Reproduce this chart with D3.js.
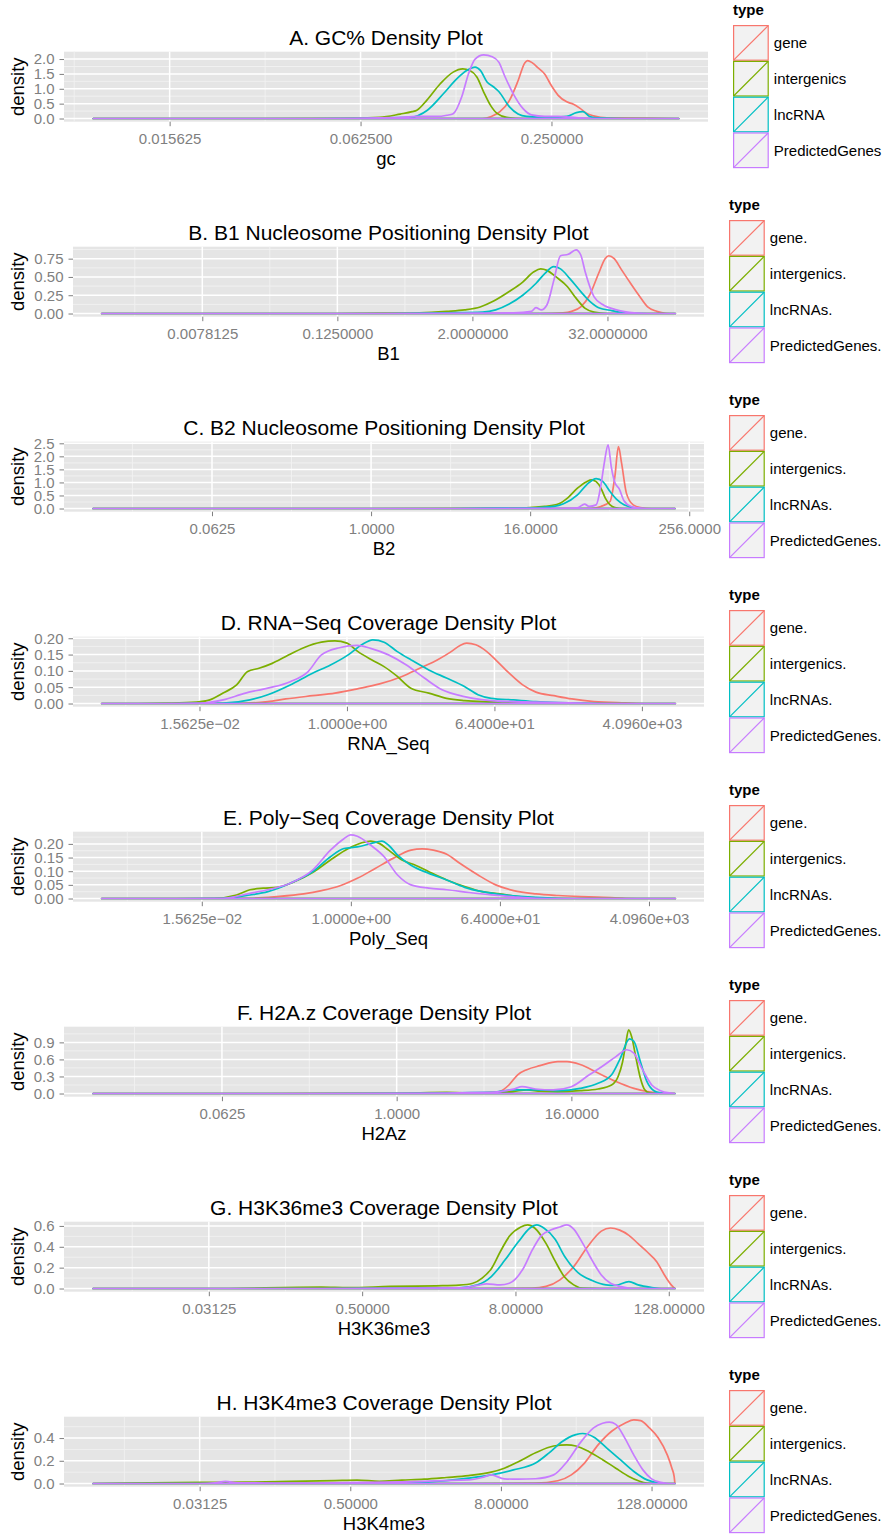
<!DOCTYPE html>
<html>
<head>
<meta charset="utf-8">
<title>Density plots</title>
<script src="https://cdn.jsdelivr.net/npm/d3@7"></script>
<style>
  body { margin: 0; background: #fff; }
  svg { display: block; font-family: "Liberation Sans", Arial, Helvetica, sans-serif; }
</style>
</head>
<body>
<div id="chart"></div>
<script>
// curve points are [log2(x), density]

// A. GC%
var gcGene = [[-6.80,0],[-3.5,0],[-2.725,0],[-2.63,0.07],[-2.54,0.23],[-2.44,0.61],[-2.35,1.27],[-2.28,1.87],[-2.25,1.95],[-2.20,1.87],[-2.14,1.70],[-2.07,1.49],[-2.0,1.10],[-1.93,0.78],[-1.84,0.56],[-1.77,0.48],[-1.70,0.34],[-1.63,0.17],[-1.56,0.09],[-1.42,0.02],[-1.0,0.01],[-0.667,0]];
var gcInter = [[-6.80,0],[-5.0,0],[-4.2,0.005],[-3.80,0.04],[-3.585,0.15],[-3.46,0.23],[-3.41,0.28],[-3.305,0.62],[-3.165,1.17],[-3.03,1.56],[-2.93,1.67],[-2.86,1.62],[-2.78,1.39],[-2.71,0.89],[-2.64,0.45],[-2.57,0.17],[-2.47,0.04],[-2.3,0],[-0.667,0]];
var gcLnc = [[-6.80,0],[-4.5,0],[-3.48,0.04],[-3.30,0.28],[-3.13,0.84],[-2.99,1.34],[-2.885,1.62],[-2.80,1.73],[-2.745,1.62],[-2.675,1.23],[-2.605,1.06],[-2.55,0.9],[-2.44,0.39],[-2.35,0.15],[-2.26,0.07],[-2.02,0.04],[-1.84,0.07],[-1.74,0.2],[-1.67,0.23],[-1.60,0.07],[-1.51,0.02],[-1.23,0],[-0.667,0]];
var gcPred = [[-6.80,0],[-4.5,0],[-3.66,0.03],[-3.4,0.07],[-3.2,0.07],[-3.095,0.11],[-3.03,0.16],[-2.94,0.73],[-2.87,1.5],[-2.80,2.0],[-2.71,2.14],[-2.62,2.08],[-2.55,1.89],[-2.49,1.43],[-2.40,0.83],[-2.30,0.34],[-2.21,0.12],[-2.07,0.07],[-1.93,0.07],[-1.74,0.03],[-1.56,0],[-0.667,0]];
var gcTicks = [0.015625, 0.0625, 0.25];
var gcTickLabels = ["0.015625", "0.062500", "0.250000"];
var gcYTicks = [0, 0.5, 1, 1.5, 2];

// B. B1
var b1Gene = [[-9.98,0],[3.0,0],[3.68,0.01],[3.94,0.03],[4.21,0.09],[4.47,0.25],[4.74,0.55],[4.93,0.75],[5.04,0.79],[5.20,0.75],[5.40,0.61],[5.66,0.43],[5.93,0.25],[6.19,0.09],[6.46,0.03],[6.72,0.003],[7.01,0]];
var b1Inter = [[-9.98,0],[-3,0],[-1.5,0.005],[-0.556,0.01],[0.24,0.03],[0.767,0.05],[1.23,0.09],[1.63,0.17],[2.09,0.30],[2.49,0.43],[2.82,0.57],[3.02,0.61],[3.21,0.59],[3.48,0.50],[3.81,0.37],[4.07,0.21],[4.34,0.07],[4.60,0.02],[5.0,0],[7.01,0]];
var b1Lnc = [[-9.98,0],[-2,0],[0.24,0.01],[1.30,0.02],[1.69,0.05],[2.09,0.13],[2.49,0.25],[2.88,0.41],[3.15,0.55],[3.41,0.64],[3.61,0.61],[3.88,0.48],[4.21,0.30],[4.47,0.17],[4.74,0.08],[5.13,0.04],[5.53,0.01],[6.19,0],[7.01,0]];
var b1Pred = [[-9.98,0],[-3,0],[1.0,0.005],[2.22,0.01],[2.75,0.03],[2.88,0.08],[3.04,0.05],[3.21,0.12],[3.41,0.45],[3.61,0.79],[3.84,0.81],[4.07,0.87],[4.21,0.80],[4.34,0.57],[4.60,0.23],[4.87,0.12],[5.27,0.05],[5.79,0.01],[6.3,0],[7.01,0]];
var b1Ticks = [0.0078125, 0.125, 2, 32];
var b1TickLabels = ["0.0078125", "0.1250000", "2.0000000", "32.0000000"];
var b1YTicks = [0, 0.25, 0.5, 0.75];

// C. B2
var b2Gene = [[-6.99,0],[5.0,0],[5.54,0.01],[5.78,0.08],[6.01,0.27],[6.13,1.22],[6.22,2.37],[6.30,1.73],[6.42,0.59],[6.59,0.14],[6.77,0.04],[7.06,0],[7.64,0]];
var b2Inter = [[-6.99,0],[0,0],[2.5,0.01],[3.90,0.03],[4.37,0.08],[4.72,0.18],[4.96,0.43],[5.19,0.78],[5.42,1.03],[5.54,1.10],[5.66,1.03],[5.78,0.78],[5.89,0.40],[6.01,0.14],[6.13,0.04],[6.36,0],[7.64,0]];
var b2Lnc = [[-6.99,0],[2,0],[4.14,0.03],[4.60,0.08],[4.84,0.18],[5.19,0.52],[5.42,0.91],[5.66,1.15],[5.83,1.03],[6.01,0.65],[6.19,0.33],[6.36,0.14],[6.59,0.04],[6.83,0],[7.64,0]];
var b2Pred = [[-6.99,0],[2,0],[4.8,0.01],[5.19,0.03],[5.37,0.17],[5.48,0.08],[5.66,0.14],[5.78,0.9],[5.87,1.8],[5.96,2.44],[6.04,1.6],[6.13,1.0],[6.24,0.75],[6.36,0.3],[6.54,0.08],[6.77,0.02],[7.1,0],[7.64,0]];
var b2Ticks = [0.0625, 1, 16, 256];
var b2TickLabels = ["0.0625", "1.0000", "16.0000", "256.0000"];
var b2YTicks = [0, 0.5, 1, 1.5, 2, 2.5];

// D. RNA-Seq
var rnaGene = [[-9.98,0],[-6,0],[-4.13,0.001],[-3.22,0.006],[-2.49,0.014],[-1.4,0.024],[-0.49,0.032],[0.42,0.045],[1.33,0.060],[2.24,0.083],[2.96,0.108],[3.69,0.134],[4.24,0.159],[4.6,0.178],[4.87,0.185],[5.24,0.180],[5.69,0.159],[6.05,0.134],[6.6,0.093],[7.15,0.057],[7.69,0.035],[8.42,0.024],[9.15,0.014],[10.05,0.006],[11.33,0.002],[12.24,0],[13.36,0]];
var rnaInter = [[-9.98,0],[-8.5,0],[-7.22,0.001],[-6.13,0.004],[-5.58,0.011],[-5.04,0.032],[-4.49,0.057],[-4.04,0.098],[-3.58,0.108],[-3.04,0.123],[-2.49,0.144],[-1.76,0.171],[-1.04,0.188],[-0.49,0.192],[0,0.185],[0.45,0.159],[1.0,0.134],[1.51,0.113],[2.05,0.083],[2.6,0.047],[3.33,0.032],[4.05,0.016],[4.78,0.009],[5.87,0.005],[7.69,0.001],[9,0],[13.36,0]];
var rnaLnc = [[-9.98,0],[-7,0],[-5.04,0.001],[-3.95,0.011],[-3.22,0.027],[-2.31,0.057],[-1.4,0.093],[-0.67,0.118],[0.05,0.149],[0.6,0.180],[1.05,0.195],[1.51,0.188],[2.05,0.159],[2.6,0.134],[3.33,0.103],[4.05,0.078],[4.78,0.052],[5.33,0.027],[5.87,0.016],[6.78,0.011],[7.69,0.006],[8.6,0.003],[9.51,0.001],[10.5,0],[13.36,0]];
var rnaPred = [[-9.98,0],[-7.5,0],[-5.95,0.001],[-5.04,0.011],[-4.13,0.032],[-3.22,0.047],[-2.31,0.067],[-1.58,0.098],[-1.04,0.149],[-0.31,0.171],[0.42,0.178],[0.96,0.169],[1.69,0.149],[2.42,0.118],[3.15,0.078],[3.87,0.042],[4.78,0.021],[5.87,0.009],[6.78,0.006],[7.69,0.004],[9.51,0.001],[10.5,0],[13.36,0]];
var rnaTicks = [0.015625, 1, 64, 4096];
var rnaTickLabels = ["1.5625e\u221202", "1.0000e+00", "6.4000e+01", "4.0960e+03"];
var rnaYTicks = [0, 0.05, 0.1, 0.15, 0.2];

// E. Poly-Seq
var polyGene = [[-10.03,0],[-6,0],[-4.06,0.001],[-2.98,0.007],[-1.90,0.017],[-1.18,0.029],[-0.46,0.046],[0.26,0.074],[0.98,0.11],[1.70,0.147],[2.42,0.177],[2.87,0.182],[3.32,0.177],[3.86,0.162],[4.40,0.128],[5.12,0.086],[5.83,0.05],[6.55,0.029],[7.45,0.017],[8.35,0.011],[9.25,0.007],[10.15,0.004],[11.05,0.001],[12,0],[13.06,0]];
var polyInter = [[-10.03,0],[-7,0],[-5.50,0.001],[-4.60,0.013],[-4.06,0.032],[-3.52,0.038],[-2.98,0.041],[-2.26,0.062],[-1.54,0.095],[-0.82,0.141],[-0.10,0.183],[0.44,0.204],[0.80,0.21],[1.16,0.201],[1.52,0.177],[2.06,0.141],[2.60,0.122],[3.14,0.098],[3.86,0.068],[4.58,0.044],[5.29,0.025],[6.01,0.017],[6.73,0.007],[7.45,0.002],[8.5,0],[13.06,0]];
var polyLnc = [[-10.03,0],[-7,0],[-5.14,0.001],[-4.06,0.013],[-3.34,0.025],[-2.44,0.056],[-1.54,0.098],[-0.82,0.153],[-0.28,0.183],[0.26,0.189],[0.80,0.201],[1.25,0.21],[1.52,0.195],[1.88,0.159],[2.42,0.122],[3.14,0.092],[3.86,0.068],[4.58,0.041],[5.29,0.025],[6.19,0.013],[7.45,0.004],[8.35,0.001],[9.5,0],[13.06,0]];
var polyPred = [[-10.03,0],[-7,0],[-5.14,0.001],[-4.06,0.019],[-3.34,0.032],[-2.44,0.056],[-1.54,0.104],[-0.82,0.177],[-0.28,0.219],[-0.01,0.233],[0.26,0.228],[0.80,0.195],[1.34,0.153],[1.88,0.086],[2.42,0.05],[3.14,0.038],[3.86,0.032],[4.76,0.022],[5.65,0.013],[6.55,0.006],[7.45,0.001],[8.5,0],[13.06,0]];
var polyTicks = [0.015625, 1, 64, 4096];
var polyTickLabels = ["1.5625e\u221202", "1.0000e+00", "6.4000e+01", "4.0960e+03"];
var polyYTicks = [0, 0.05, 0.1, 0.15, 0.2];

// F. H2A.z
var h2Gene = [[-6.95,0],[-3,0],[0.12,0.005],[2.16,0.012],[2.36,0.035],[2.57,0.15],[2.77,0.33],[2.98,0.42],[3.28,0.49],[3.69,0.56],[3.90,0.56],[4.20,0.51],[4.61,0.36],[5.02,0.21],[5.43,0.09],[5.73,0.035],[6.04,0.01],[6.37,0]];
var h2Inter = [[-6.95,0],[-3,0],[0,0.005],[1.14,0.02],[1.6,0.01],[2.3,0.02],[2.67,0.035],[2.98,0.065],[3.3,0.04],[3.69,0.035],[4.20,0.05],[4.61,0.08],[4.92,0.15],[5.07,0.3],[5.17,0.55],[5.24,0.85],[5.31,1.12],[5.38,1.0],[5.48,0.62],[5.58,0.27],[5.68,0.065],[5.79,0.01],[6.0,0],[6.37,0]];
var h2Lnc = [[-6.95,0],[-3,0],[0,0.003],[2.16,0.02],[2.67,0.065],[3.18,0.065],[3.69,0.05],[4.20,0.09],[4.61,0.18],[4.92,0.33],[5.12,0.62],[5.33,0.96],[5.43,0.92],[5.58,0.56],[5.73,0.21],[5.89,0.05],[6.04,0.01],[6.2,0],[6.37,0]];
var h2Pred = [[-6.95,0],[-3,0],[0,0.003],[2.16,0.02],[2.67,0.076],[2.87,0.12],[3.18,0.08],[3.59,0.065],[4.0,0.12],[4.41,0.33],[4.71,0.48],[5.02,0.65],[5.27,0.77],[5.43,0.71],[5.63,0.42],[5.84,0.15],[6.04,0.05],[6.24,0.01],[6.37,0]];
var h2Ticks = [0.0625, 1, 16];
var h2TickLabels = ["0.0625", "1.0000", "16.0000"];
var h2YTicks = [0, 0.3, 0.6, 0.9];

// G. H3K36me3
var k36Gene = [[-8.02,0],[2,0],[3.44,0.003],[3.80,0.02],[4.16,0.083],[4.52,0.21],[4.88,0.40],[5.24,0.55],[5.48,0.58],[5.72,0.56],[5.96,0.51],[6.20,0.43],[6.44,0.35],[6.68,0.26],[6.92,0.11],[7.10,0.02],[7.16,0]];
var k36Inter = [[-8.02,0],[-5,0],[-2.07,0.013],[-1.35,0.008],[-0.27,0.02],[0.93,0.026],[1.53,0.032],[1.89,0.05],[2.13,0.1],[2.37,0.19],[2.60,0.35],[2.84,0.50],[3.14,0.59],[3.32,0.61],[3.50,0.58],[3.80,0.43],[4.04,0.26],[4.28,0.11],[4.52,0.035],[4.76,0.003],[5.2,0],[7.16,0]];
var k36Lnc = [[-8.02,0],[-2,0],[1.53,0.006],[2.01,0.035],[2.37,0.115],[2.72,0.27],[3.08,0.45],[3.38,0.58],[3.56,0.61],[3.74,0.58],[4.04,0.47],[4.28,0.31],[4.64,0.15],[5.0,0.077],[5.36,0.035],[5.60,0.03],[5.96,0.067],[6.20,0.035],[6.56,0.01],[6.80,0],[7.16,0]];
var k36Pred = [[-8.02,0],[-2,0],[1.53,0.006],[2.01,0.03],[2.25,0.045],[2.60,0.035],[2.84,0.05],[3.20,0.19],[3.44,0.37],[3.68,0.51],[3.92,0.56],[4.16,0.59],[4.34,0.61],[4.52,0.57],[4.76,0.43],[5.0,0.27],[5.24,0.13],[5.48,0.05],[5.72,0.02],[6.08,0],[7.16,0]];
var k36Ticks = [0.03125, 0.5, 8, 128];
var k36TickLabels = ["0.03125", "0.50000", "8.00000", "128.00000"];
var k36YTicks = [0, 0.2, 0.4, 0.6];

// H. H3K4me3
var k4Gene = [[-7.83,0],[2,0],[3.92,0.003],[4.51,0.024],[4.87,0.076],[5.22,0.18],[5.58,0.34],[5.94,0.46],[6.29,0.53],[6.53,0.56],[6.71,0.553],[6.94,0.49],[7.18,0.40],[7.42,0.25],[7.54,0.135],[7.60,0.06],[7.62,0]];
var k4Inter = [[-7.83,0],[-7,0.003],[-4.96,0.01],[-3.78,0.012],[-2.59,0.018],[-1.41,0.026],[-0.82,0.03],[-0.23,0.02],[0.37,0.03],[0.96,0.038],[1.55,0.053],[2.14,0.07],[2.74,0.1],[3.09,0.135],[3.45,0.19],[3.92,0.27],[4.40,0.33],[4.75,0.34],[4.99,0.33],[5.34,0.28],[5.70,0.21],[6.05,0.135],[6.41,0.06],[6.65,0.024],[6.88,0.003],[7.1,0],[7.62,0]];
var k4Lnc = [[-7.83,0],[-2,0],[0.37,0.006],[1.55,0.026],[2.14,0.047],[2.74,0.076],[3.33,0.12],[3.92,0.18],[4.28,0.27],[4.63,0.37],[4.99,0.43],[5.17,0.44],[5.46,0.41],[5.82,0.31],[6.17,0.21],[6.53,0.106],[6.88,0.032],[7.24,0.003],[7.4,0],[7.62,0]];
var k4Pred = [[-7.83,0],[-5,0],[-4.6,0.006],[-4.31,0.018],[-4.0,0.006],[-2,0.003],[2.14,0.032],[2.50,0.053],[2.74,0.076],[3.09,0.041],[3.45,0.038],[3.92,0.042],[4.40,0.076],[4.75,0.19],[5.11,0.36],[5.46,0.49],[5.70,0.53],[5.88,0.54],[6.05,0.52],[6.29,0.40],[6.53,0.25],[6.77,0.12],[7.0,0.041],[7.24,0.01],[7.48,0],[7.62,0]];
var k4Ticks = [0.03125, 0.5, 8, 128];
var k4TickLabels = ["0.03125", "0.50000", "8.00000", "128.00000"];
var k4YTicks = [0, 0.2, 0.4];

var typesA = ["gene", "intergenics", "lncRNA", "PredictedGenes"];
var typesDot = ["gene.", "intergenics.", "lncRNAs.", "PredictedGenes."];
var colors = ["#F8766D", "#7CAE00", "#00BFC4", "#C77CFF"];

var panels = [
  {title: "A. GC% Density Plot", xlab: "gc", curves: [gcGene, gcInter, gcLnc, gcPred], ticks: gcTicks, labels: gcTickLabels, yTicks: gcYTicks, yFmt: ".1f", legend: typesA},
  {title: "B. B1 Nucleosome Positioning Density Plot", xlab: "B1", curves: [b1Gene, b1Inter, b1Lnc, b1Pred], ticks: b1Ticks, labels: b1TickLabels, yTicks: b1YTicks, yFmt: ".2f", legend: typesDot},
  {title: "C. B2 Nucleosome Positioning Density Plot", xlab: "B2", curves: [b2Gene, b2Inter, b2Lnc, b2Pred], ticks: b2Ticks, labels: b2TickLabels, yTicks: b2YTicks, yFmt: ".1f", legend: typesDot},
  {title: "D. RNA\u2212Seq Coverage Density Plot", xlab: "RNA_Seq", curves: [rnaGene, rnaInter, rnaLnc, rnaPred], ticks: rnaTicks, labels: rnaTickLabels, yTicks: rnaYTicks, yFmt: ".2f", legend: typesDot},
  {title: "E. Poly\u2212Seq Coverage Density Plot", xlab: "Poly_Seq", curves: [polyGene, polyInter, polyLnc, polyPred], ticks: polyTicks, labels: polyTickLabels, yTicks: polyYTicks, yFmt: ".2f", legend: typesDot},
  {title: "F. H2A.z Coverage Density Plot", xlab: "H2Az", curves: [h2Gene, h2Inter, h2Lnc, h2Pred], ticks: h2Ticks, labels: h2TickLabels, yTicks: h2YTicks, yFmt: ".1f", legend: typesDot},
  {title: "G. H3K36me3 Coverage Density Plot", xlab: "H3K36me3", curves: [k36Gene, k36Inter, k36Lnc, k36Pred], ticks: k36Ticks, labels: k36TickLabels, yTicks: k36YTicks, yFmt: ".1f", legend: typesDot},
  {title: "H. H3K4me3 Coverage Density Plot", xlab: "H3K4me3", curves: [k4Gene, k4Inter, k4Lnc, k4Pred], ticks: k4Ticks, labels: k4TickLabels, yTicks: k4YTicks, yFmt: ".1f", legend: typesDot}
];

// layout
var W = 886, H = 1534, BLOCK = 195;
var panelLeft = [64, 73, 64, 73, 73, 64, 64, 64];
var panelRight = [708, 704, 704, 704, 704, 704, 704, 704];
var keySize = 35.8;
var grey50 = "#7F7F7F";

var svg = d3.select("#chart").append("svg")
    .attr("width", W)
    .attr("height", H);

panels.forEach(function(p, i) {
  var o = i * BLOCK,
      top = o + 51.7,
      bottom = o + 121.7,
      left = panelLeft[i],
      right = panelRight[i];
  var g = svg.append("g");

  var all = d3.merge(p.curves);
  var ext = d3.extent(all, function(d) { return d[0]; });
  var pad = (ext[1] - ext[0]) * 0.05;
  var lo = ext[0] - pad, hi = ext[1] + pad;
  var x = d3.scaleLog().base(2)
      .domain([Math.pow(2, lo), Math.pow(2, hi)])
      .range([left, right]);
  var ymax = d3.max(all, function(d) { return d[1]; });
  var y = d3.scaleLinear()
      .domain([-0.05 * ymax, 1.05 * ymax])
      .range([bottom, top]);

  g.append("rect")
      .attr("x", left).attr("y", top)
      .attr("width", right - left).attr("height", bottom - top)
      .attr("fill", "#E5E5E5");

  // minor grid at the midpoints
  var e = p.ticks.map(function(v) { return Math.log2(v); });
  var step = e[1] - e[0];
  var xMinor = d3.range(e[0] - step * 3.5, hi, step).filter(function(m) { return m > lo; });
  var ys = p.yTicks[1] - p.yTicks[0];
  var yMinor = d3.range(p.yTicks[0] - ys / 2, 1.05 * ymax, ys).filter(function(m) { return m > -0.05 * ymax; });

  g.selectAll(null).data(xMinor).enter().append("line")
      .attr("x1", function(d) { return x(Math.pow(2, d)); })
      .attr("x2", function(d) { return x(Math.pow(2, d)); })
      .attr("y1", top).attr("y2", bottom)
      .attr("stroke", "#F2F2F2").attr("stroke-width", 0.9);
  g.selectAll(null).data(yMinor).enter().append("line")
      .attr("x1", left).attr("x2", right)
      .attr("y1", function(d) { return y(d); })
      .attr("y2", function(d) { return y(d); })
      .attr("stroke", "#F2F2F2").attr("stroke-width", 0.9);

  // major grid
  g.selectAll(null).data(p.ticks).enter().append("line")
      .attr("x1", function(d) { return x(d); })
      .attr("x2", function(d) { return x(d); })
      .attr("y1", top).attr("y2", bottom)
      .attr("stroke", "#fff").attr("stroke-width", 1.5);
  g.selectAll(null).data(p.yTicks).enter().append("line")
      .attr("x1", left).attr("x2", right)
      .attr("y1", function(d) { return y(d); })
      .attr("y2", function(d) { return y(d); })
      .attr("stroke", "#fff").attr("stroke-width", 1.5);

  // density outlines, closed along y = 0
  var line = d3.line()
      .x(function(d) { return x(Math.pow(2, d[0])); })
      .y(function(d) { return y(d[1]); })
      .curve(d3.curveMonotoneX);
  p.curves.forEach(function(c, j) {
    g.append("path")
        .attr("d", line(c) + "Z")
        .attr("fill", "none")
        .attr("stroke", colors[j])
        .attr("stroke-width", 1.7)
        .attr("stroke-linejoin", "round");
  });

  // x axis
  var xAxis = g.append("g").attr("transform", "translate(0," + bottom + ")")
      .call(d3.axisBottom(x).tickValues(p.ticks)
        .tickFormat(function(d, k) { return p.labels[k]; })
        .tickSize(4.5).tickPadding(7));
  xAxis.select(".domain").remove();
  xAxis.selectAll("line").attr("stroke", grey50);
  xAxis.selectAll("text").attr("fill", grey50).attr("font-size", 15)
      .attr("font-family", "Liberation Sans, Arial, sans-serif");

  // y axis
  var yAxis = g.append("g").attr("transform", "translate(" + left + ",0)")
      .call(d3.axisLeft(y).tickValues(p.yTicks)
        .tickFormat(d3.format(p.yFmt))
        .tickSize(4.5).tickPadding(5));
  yAxis.select(".domain").remove();
  yAxis.selectAll("line").attr("stroke", grey50);
  yAxis.selectAll("text").attr("fill", grey50).attr("font-size", 15)
      .attr("font-family", "Liberation Sans, Arial, sans-serif");

  // titles
  var cx = (left + right) / 2;
  g.append("text")
      .attr("x", cx).attr("y", o + 45)
      .attr("text-anchor", "middle")
      .attr("font-size", 21)
      .text(p.title);
  g.append("text")
      .attr("x", cx).attr("y", o + 165)
      .attr("text-anchor", "middle")
      .attr("font-size", 18.5)
      .text(p.xlab);
  g.append("text")
      .attr("transform", "translate(24," + ((top + bottom) / 2) + ") rotate(-90)")
      .attr("text-anchor", "middle")
      .attr("font-size", 18.5)
      .text("density");

  // legend
  var lx = right + 25;
  g.append("text")
      .attr("x", lx).attr("y", o + 15)
      .attr("font-size", 15)
      .attr("font-weight", "bold")
      .text("type");
  p.legend.forEach(function(lab, j) {
    var ky = o + 25 + j * keySize;
    g.append("rect")
        .attr("x", lx + 0.6).attr("y", ky + 0.6)
        .attr("width", keySize - 1.2).attr("height", keySize - 1.2)
        .attr("fill", "#F2F2F2")
        .attr("stroke", colors[j]).attr("stroke-width", 1.2);
    g.append("line")
        .attr("x1", lx + 0.6).attr("y1", ky + keySize - 0.6)
        .attr("x2", lx + keySize - 0.6).attr("y2", ky + 0.6)
        .attr("stroke", colors[j]).attr("stroke-width", 1.2);
    g.append("text")
        .attr("x", lx + keySize + 5)
        .attr("y", ky + keySize / 2)
        .attr("dy", "0.36em")
        .attr("font-size", 15)
        .text(lab);
  });
});
</script>
</body>
</html>
